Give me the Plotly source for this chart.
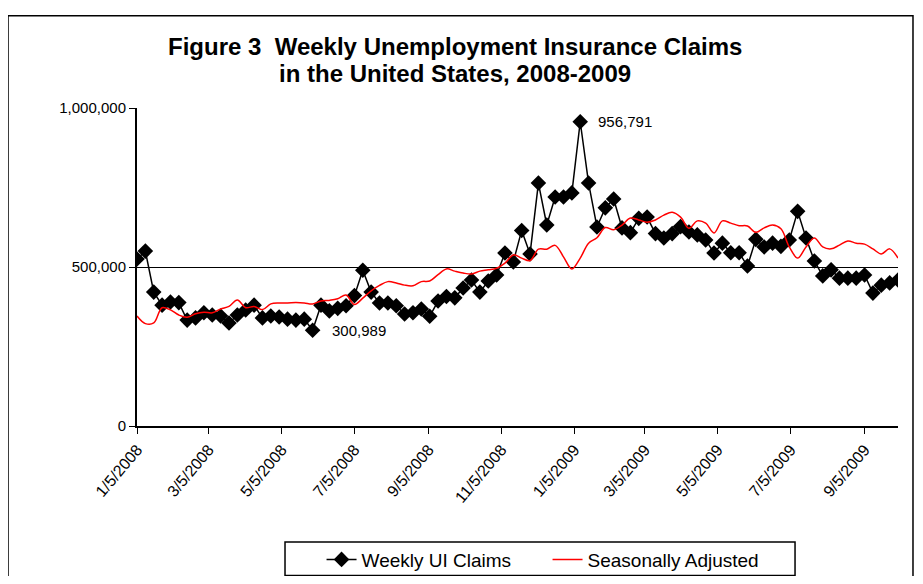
import pandas as pd
import plotly.graph_objects as go

# Weekly dates (week ending), starting 1/5/2008
start_date = "2008-01-05"
n_weeks = 92

weekly_claims = [
    525000, 550000, 421000, 380000, 390000, 388000, 333000, 340000, 356000, 349000,
    346000, 324000, 349000, 365000, 380000, 340000, 346000, 343000, 336000, 333000,
    336000, 300989, 380000, 362000, 370000, 378000, 410000, 490000, 421000, 387000,
    387000, 378000, 352000, 356000, 368000, 345000, 393000, 407000, 403000, 434000,
    459000, 421000, 456000, 475000, 544000, 516000, 615000, 541000, 764000, 632000,
    720000, 720000, 733000, 956791, 764000, 626000, 686000, 714000, 623000, 608000,
    653000, 657000, 605000, 591000, 605000, 627000, 610000, 601000, 585000, 544000,
    575000, 545000, 545000, 503000, 587000, 563000, 575000, 565000, 585000, 675000,
    591000, 519000, 472000, 491000, 465000, 465000, 465000, 475000, 418000, 443000,
    450000, 459000,
]

seasonally_adjusted = [
    346000, 322000, 324000, 372000, 365000, 349000, 342000, 353000, 358000, 356000,
    368000, 376000, 396000, 372000, 376000, 366000, 384000, 387000, 387000, 388000,
    387000, 384000, 393000, 395000, 400000, 412000, 382000, 402000, 425000, 442000,
    454000, 450000, 443000, 441000, 454000, 456000, 476000, 494000, 487000, 481000,
    478000, 487000, 491000, 496000, 512000, 538000, 528000, 520000, 556000, 556000,
    568000, 532000, 494000, 528000, 575000, 592000, 624000, 617000, 632000, 654000,
    648000, 641000, 648000, 663000, 672000, 657000, 622000, 645000, 638000, 607000,
    645000, 638000, 630000, 629000, 609000, 623000, 632000, 620000, 563000, 528000,
    563000, 591000, 563000, 557000, 569000, 582000, 575000, 572000, 557000, 541000,
    557000, 528000,
]

x_tick_dates = ["2008-01-05", "2008-03-05", "2008-05-05", "2008-07-05", "2008-09-05",
                "2008-11-05", "2009-01-05", "2009-03-05", "2009-05-05", "2009-07-05",
                "2009-09-05"]
x_tick_labels = ["1/5/2008", "3/5/2008", "5/5/2008", "7/5/2008", "9/5/2008",
                 "11/5/2008", "1/5/2009", "3/5/2009", "5/5/2009", "7/5/2009",
                 "9/5/2009"]
y_tick_vals = [0, 500000, 1000000]
y_tick_labels = ["0", "500,000", "1,000,000"]

title_line1 = "Figure 3  Weekly Unemployment Insurance Claims"
title_line2 = "in the United States, 2008-2009"

dates = pd.date_range(start_date, periods=n_weeks, freq="7D")

FONT = "Liberation Sans, Arial, sans-serif"

fig = go.Figure()
fig.add_trace(go.Scatter(
    x=dates, y=weekly_claims, name="Weekly UI Claims", mode="lines+markers",
    line=dict(color="black", width=1.5),
    marker=dict(symbol="diamond", size=12, color="black"),
))
fig.add_trace(go.Scatter(
    x=dates, y=seasonally_adjusted, name="Seasonally Adjusted", mode="lines",
    line=dict(color="#ff0000", width=1.5, shape="spline", smoothing=1.0),
))

# annotations for min / max
imax = weekly_claims.index(max(weekly_claims))
imin = weekly_claims.index(min(weekly_claims))
fig.add_annotation(x=dates[imax], y=weekly_claims[imax], text=f"{weekly_claims[imax]:,}",
                   showarrow=False, xanchor="left", yanchor="middle", xshift=16,
                   font=dict(family=FONT, size=15, color="black"))
fig.add_annotation(x=dates[imin], y=weekly_claims[imin], text=f"{weekly_claims[imin]:,}",
                   showarrow=False, xanchor="left", yanchor="middle", xshift=17, yshift=0,
                   font=dict(family=FONT, size=15, color="black"))

# title (two centred lines)
for txt, ypos in [(title_line1, 1.192), (title_line2, 1.110)]:
    fig.add_annotation(xref="paper", yref="paper", x=0.418, y=ypos,
                       text=f"<b>{txt}</b>", showarrow=False,
                       xanchor="center", yanchor="middle",
                       font=dict(family=FONT, size=24, color="black"))

# outer chart frame
fig.add_shape(type="rect", xref="paper", yref="paper", x0=-0.1695, x1=1.0197, y0=-0.56, y1=1.29,
              line=dict(color="black", width=1.5), fillcolor="rgba(0,0,0,0)", layer="below")
# legend frame
fig.add_shape(type="rect", xref="paper", yref="paper", x0=0.1945, x1=0.8647, y0=-0.470, y1=-0.365,
              line=dict(color="black", width=1.5), fillcolor="rgba(0,0,0,0)", layer="below")

fig.update_layout(
    width=907, height=568,
    margin=dict(l=129, r=17, t=100, b=150, autoexpand=False),
    paper_bgcolor="white", plot_bgcolor="white",
    font=dict(family=FONT, size=15, color="black"),
    showlegend=True,
    legend=dict(orientation="h", x=0.2425, y=-0.420, xanchor="left", yanchor="middle",
                borderwidth=0, bgcolor="rgba(0,0,0,0)", font=dict(size=19),
                entrywidth=181, entrywidthmode="pixels", tracegroupgap=0),
)
fig.update_xaxes(
    type="date", range=[dates[0], dates[-1]],
    tickmode="array", tickvals=x_tick_dates, ticktext=x_tick_labels, tickangle=-50,
    ticks="outside", ticklen=6, tickcolor="black", tickwidth=1,
    showline=True, linecolor="black", linewidth=2, showgrid=False, zeroline=False,
    tickfont=dict(family=FONT, size=16),
)
fig.update_yaxes(
    range=[0, 1000000], tickmode="array", tickvals=y_tick_vals, ticktext=y_tick_labels,
    ticks="outside", ticklen=6, tickcolor="black", tickwidth=1,
    showline=True, linecolor="black", linewidth=2,
    showgrid=True, gridcolor="black", gridwidth=1, zeroline=False,
    tickfont=dict(family=FONT, size=15),
)

fig.write_html("out.html")
